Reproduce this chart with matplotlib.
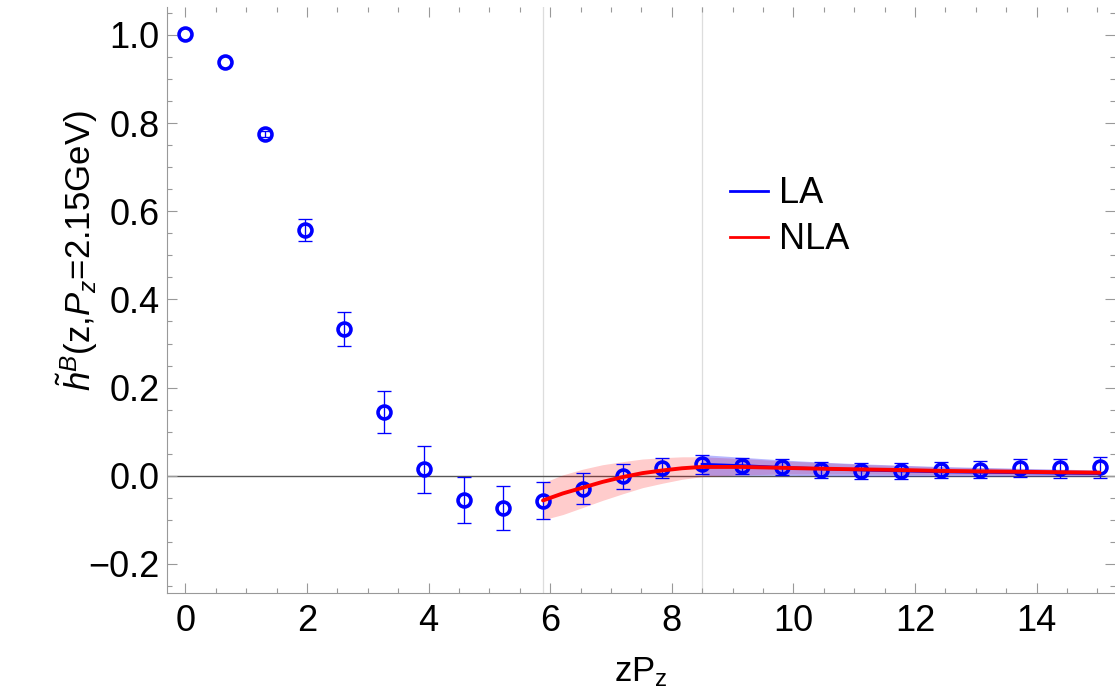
import matplotlib
matplotlib.use("Agg")
import matplotlib.pyplot as plt
from matplotlib.ticker import MultipleLocator
from matplotlib.lines import Line2D

plt.rcParams['font.family'] = ['Liberation Sans', 'DejaVu Sans']
plt.rcParams['mathtext.fontset'] = 'custom'
plt.rcParams['mathtext.rm'] = 'Liberation Sans'
plt.rcParams['mathtext.it'] = 'Liberation Sans:italic'
plt.rcParams['mathtext.bf'] = 'Liberation Sans:bold'

# ---- data ----
zpz = [0.0, 0.654, 1.307, 1.961, 2.615, 3.269, 3.922, 4.576, 5.230, 5.883,
       6.537, 7.191, 7.845, 8.498, 9.152, 9.806, 10.460, 11.113, 11.767,
       12.421, 13.074, 13.728, 14.382, 15.036]
h_val = [1.002, 0.939, 0.775, 0.558, 0.333, 0.145, 0.015, -0.055, -0.073, -0.057,
         -0.029, -0.001, 0.018, 0.026, 0.023, 0.019, 0.014, 0.011, 0.011,
         0.013, 0.014, 0.017, 0.017, 0.019]
h_err = [0.0, 0.0, 0.007, 0.025, 0.038, 0.048, 0.053, 0.053, 0.050, 0.042,
         0.035, 0.028, 0.023, 0.022, 0.018, 0.018, 0.018, 0.018, 0.019,
         0.019, 0.019, 0.020, 0.021, 0.023]

nla_x = [5.883, 6.21, 6.537, 6.86, 7.191, 7.52, 7.845, 8.17, 8.498, 9.152, 9.806,
         10.460, 11.113, 11.767, 12.421, 13.074, 13.728, 14.382, 15.036]
nla_y = [-0.056, -0.040, -0.027, -0.014, -0.003, 0.006, 0.012, 0.017, 0.020, 0.020,
         0.018, 0.016, 0.0145, 0.013, 0.011, 0.010, 0.009, 0.008, 0.007]
nla_lo = [-0.100, -0.088, -0.072, -0.056, -0.041, -0.027, -0.017, -0.008, -0.002,
          0.002, 0.004, 0.004, 0.004, 0.003, 0.003, 0.003, 0.002, 0.002, 0.002]
nla_hi = [-0.016, 0.002, 0.015, 0.025, 0.032, 0.038, 0.041, 0.043, 0.043, 0.039,
          0.034, 0.030, 0.026, 0.023, 0.020, 0.018, 0.016, 0.014, 0.012]

la_x = [8.498, 9.152, 9.806, 10.460, 11.113, 11.767, 12.421, 13.074, 13.728,
        14.382, 15.036]
la_y = [0.026, 0.023, 0.019, 0.016, 0.013, 0.011, 0.009, 0.008, 0.007, 0.006, 0.005]
la_lo = [0.001, 0.001, 0.001, 0.000, -0.001, -0.001, -0.001, -0.001, -0.001, -0.001, -0.001]
la_hi = [0.048, 0.042, 0.036, 0.031, 0.027, 0.024, 0.021, 0.019, 0.017, 0.015, 0.013]

vlines = [5.883, 8.498]
x_ticks = [0, 2, 4, 6, 8, 10, 12, 14]
y_ticks = [-0.2, 0.0, 0.2, 0.4, 0.6, 0.8, 1.0]
y_ticklabels = ['\u22120.2', '0.0', '0.2', '0.4', '0.6', '0.8', '1.0']

# ---- figure ----
fig = plt.figure(figsize=(11.15, 6.98), dpi=100)
ax = fig.add_axes([166.7 / 1115, 1 - 593 / 698, (1115 - 166.7) / 1115, (593 - 7) / 698])
ax.set_xlim(-0.306, 15.29)
ax.set_ylim(-0.266, 1.0635)

for v in vlines:
    ax.axvline(v, color='#dddddd', lw=0.9, zorder=1)
ax.axhline(0, color='#555555', lw=1.0, zorder=1.5)

ax.fill_between(nla_x, nla_lo, nla_hi, color='#ff0000', alpha=0.2, lw=0, zorder=2)
ax.fill_between(la_x, la_lo, la_hi, color='#0000ff', alpha=0.28, lw=0, zorder=2.1)

# error bars (only where visible) and hollow markers
ex = [x for x, e in zip(zpz, h_err) if e > 0]
ey = [y for y, e in zip(h_val, h_err) if e > 0]
ee = [e for e in h_err if e > 0]
ax.errorbar(ex, ey, yerr=ee, fmt='none', ecolor='#0000ff', elinewidth=0.95,
            capsize=5, capthick=0.95, zorder=3)
ax.plot(zpz, h_val, 'o', ms=9.3, mfc='none', mec='#0000ff', mew=2.6, zorder=3.2)

ax.plot(la_x, la_y, color='#0000ff', lw=2.0, zorder=4)
ax.plot(nla_x, nla_y, color='#ff0000', lw=2.8, zorder=5, solid_capstyle='round')

# ticks / frame
ax.xaxis.set_minor_locator(MultipleLocator(0.5))
ax.yaxis.set_minor_locator(MultipleLocator(0.05))
ax.set_xticks(x_ticks)
ax.set_yticks(y_ticks)
ax.set_yticklabels(y_ticklabels)
ax.tick_params(which='both', direction='in', top=True, right=True, color='#999999',
               width=0.8, labelsize=26, labelcolor='black')
ax.tick_params(which='major', length=7)
ax.tick_params(which='minor', length=3.6)
ax.tick_params(axis='x', which='major', pad=8)
ax.tick_params(axis='y', which='major', pad=5)
for side in ['left', 'bottom']:
    ax.spines[side].set_color('#999999')
    ax.spines[side].set_linewidth(0.8)
for side in ['top', 'right']:
    ax.spines[side].set_visible(False)

ax.set_xlabel(r'zP$_\mathrm{z}$', fontsize=25)
ax.xaxis.set_label_coords(0.5, -0.106)
ax.set_ylabel(r'$\tilde{h}^{B}$(z,$P_{z}$=2.15GeV)', fontsize=25)
ax.yaxis.set_label_coords(-0.070, 0.585)

handles = [Line2D([], [], color='#0000ff', lw=2), Line2D([], [], color='#ff0000', lw=2)]
ax.legend(handles, ['LA', 'NLA'], loc='upper left', bbox_to_anchor=(0.594, 0.711),
          frameon=False, fontsize=26, handlelength=1.05, handletextpad=0.3,
          labelspacing=0.3, borderpad=0, borderaxespad=0)

fig.savefig('out.png', dpi=100)
